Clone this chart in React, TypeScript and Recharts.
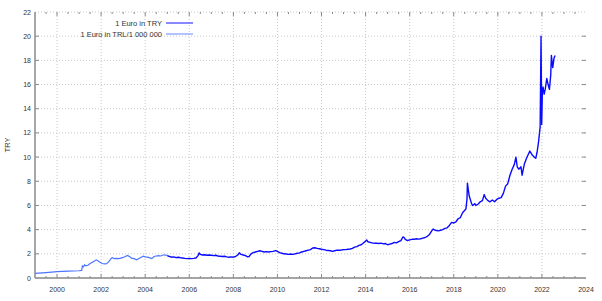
import { LineChart, Line, XAxis, YAxis, CartesianGrid, ReferenceLine } from 'recharts';

// Euro in old lira (TRL) divided by 1 000 000, 1999 - 2005
const trlDates = [
  1999.0, 1999.5, 2000.0, 2000.5, 2001.0, 2001.12, 2001.15, 2001.2, 2001.25, 2001.3, 2001.4, 2001.5,
  2001.6, 2001.7, 2001.78, 2001.85, 2001.95, 2002.05, 2002.15, 2002.25, 2002.35, 2002.45, 2002.5,
  2002.6, 2002.7, 2002.8, 2002.9, 2003.0, 2003.1, 2003.2, 2003.3, 2003.4, 2003.5, 2003.6, 2003.7,
  2003.8, 2003.92, 2004.0, 2004.15, 2004.3, 2004.4, 2004.5, 2004.6, 2004.7, 2004.85, 2004.95, 2005.0,
];
const trlRates = [
  0.38, 0.45, 0.53, 0.57, 0.6, 0.63, 1.0, 0.92, 1.1, 1.0, 1.05, 1.2,
  1.3, 1.4, 1.5, 1.42, 1.3, 1.2, 1.17, 1.18, 1.35, 1.6, 1.68,
  1.6, 1.62, 1.6, 1.65, 1.7, 1.78, 1.86, 1.75, 1.62, 1.6, 1.5, 1.6,
  1.7, 1.8, 1.75, 1.7, 1.6, 1.78, 1.82, 1.85, 1.82, 1.92, 1.88, 1.9,
];

// Euro in new lira (TRY), 2005 - 2022
const tryDates = [
  2005.0, 2005.1, 2005.2, 2005.3, 2005.4, 2005.5, 2005.6, 2005.7, 2005.8, 2005.9,
  2006.0, 2006.1, 2006.2, 2006.3, 2006.4, 2006.45, 2006.5, 2006.6, 2006.7, 2006.8, 2006.9,
  2007.0, 2007.1, 2007.2, 2007.3, 2007.4, 2007.5, 2007.6, 2007.7, 2007.8, 2007.9,
  2008.0, 2008.1, 2008.2, 2008.27, 2008.35, 2008.45, 2008.55, 2008.65, 2008.72, 2008.8, 2008.9,
  2009.0, 2009.1, 2009.2, 2009.3, 2009.4, 2009.5, 2009.6, 2009.7, 2009.8, 2009.92,
  2010.0, 2010.1, 2010.2, 2010.3, 2010.4, 2010.5, 2010.6, 2010.7, 2010.8, 2010.9,
  2011.0, 2011.1, 2011.2, 2011.3, 2011.4, 2011.5, 2011.6, 2011.7, 2011.8, 2011.9,
  2012.0, 2012.1, 2012.2, 2012.3, 2012.4, 2012.5, 2012.6, 2012.7, 2012.8, 2012.9,
  2013.0, 2013.1, 2013.2, 2013.3, 2013.4, 2013.5, 2013.6, 2013.7, 2013.8, 2013.9,
  2014.0, 2014.05, 2014.1, 2014.2, 2014.3, 2014.4, 2014.5, 2014.6, 2014.7, 2014.8, 2014.9,
  2015.0, 2015.1, 2015.2, 2015.3, 2015.4, 2015.5, 2015.6, 2015.7, 2015.75, 2015.8, 2015.9,
  2016.0, 2016.1, 2016.2, 2016.3, 2016.4, 2016.5, 2016.6, 2016.7, 2016.8, 2016.9,
  2017.0, 2017.07, 2017.15, 2017.3, 2017.4, 2017.5, 2017.6, 2017.7, 2017.8, 2017.9,
  2018.0, 2018.1, 2018.2, 2018.3, 2018.4, 2018.45, 2018.5, 2018.55, 2018.6, 2018.62, 2018.66,
  2018.7, 2018.75, 2018.8, 2018.85, 2018.9, 2018.95,
  2019.0, 2019.1, 2019.2, 2019.3, 2019.38, 2019.45, 2019.55, 2019.65, 2019.75, 2019.85, 2019.95,
  2020.05, 2020.15, 2020.25, 2020.35, 2020.45, 2020.55, 2020.65, 2020.75, 2020.82, 2020.88, 2020.95,
  2021.05, 2021.1, 2021.2, 2021.3, 2021.4, 2021.45, 2021.55, 2021.65, 2021.72, 2021.78, 2021.85,
  2021.92, 2021.96, 2021.99, 2022.02, 2022.05, 2022.1, 2022.15, 2022.22, 2022.28, 2022.34,
  2022.4, 2022.43, 2022.49, 2022.55, 2022.6,
];
const tryRates = [
  1.85, 1.78, 1.72, 1.75, 1.68, 1.72, 1.68, 1.65, 1.62, 1.6,
  1.62, 1.6, 1.62, 1.65, 1.85, 2.08, 1.95, 1.9, 1.92, 1.88, 1.9,
  1.88, 1.85, 1.88, 1.82, 1.8, 1.78, 1.8, 1.75, 1.72, 1.75,
  1.72, 1.78, 1.9, 2.08, 1.95, 1.9, 1.85, 1.75, 1.78, 2.0, 2.1,
  2.15, 2.2, 2.25, 2.2, 2.15, 2.18, 2.15, 2.18, 2.2, 2.27,
  2.2, 2.1, 2.05, 2.0, 1.98, 1.95, 1.98, 1.95, 2.0, 2.05,
  2.08, 2.15, 2.2, 2.25, 2.3, 2.35, 2.48, 2.5, 2.45, 2.42,
  2.38, 2.35, 2.3, 2.28, 2.25, 2.2, 2.25, 2.3, 2.3, 2.32,
  2.35, 2.35, 2.38, 2.4, 2.45, 2.55, 2.6, 2.7, 2.75, 2.9,
  3.05, 3.15, 3.0, 2.95, 2.9, 2.88, 2.88, 2.85, 2.88, 2.82, 2.85,
  2.75, 2.8, 2.85, 2.95, 2.9, 3.0, 3.1, 3.4, 3.35, 3.2, 3.1,
  3.15, 3.2, 3.2, 3.25, 3.22, 3.25, 3.3, 3.35, 3.45, 3.6,
  3.9, 4.05, 3.95, 3.9, 3.95, 4.0, 4.1, 4.15, 4.35, 4.6,
  4.55, 4.65, 4.9, 5.0, 5.4, 5.5, 5.6, 5.7, 6.5, 7.85, 7.3,
  6.8, 6.5, 6.2, 6.0, 6.05, 6.15,
  6.0, 6.1, 6.3, 6.4, 6.9, 6.6, 6.4, 6.3, 6.45, 6.3, 6.5,
  6.6, 6.65, 7.0, 7.6, 7.8, 8.5, 9.0, 9.4, 10.0, 9.2, 9.0,
  9.2, 8.5, 9.4, 9.9, 10.3, 10.5, 10.2, 10.0, 9.9, 10.4, 11.3,
  12.5, 20.0, 12.7, 15.4, 15.8, 15.2, 15.6, 16.5, 16.0, 15.6,
  16.8, 18.4, 17.4, 18.2, 18.4,
];

const seriesNames = ['1 Euro in TRY', '1 Euro in TRL/1 000 000'];
const yearLabels = [2000, 2002, 2004, 2006, 2008, 2010, 2012, 2014, 2016, 2018, 2020, 2022, 2024];
const rateTicks = [0, 2, 4, 6, 8, 10, 12, 14, 16, 18, 20, 22];

const trlData = trlDates.map((t, i) => ({ t, v: trlRates[i] }));
const tryData = tryDates.map((t, i) => ({ t, v: tryRates[i] }));
// half-year minor ticks
const yearTicks: number[] = [];
for (let y = 1999; y <= 2024; y += 0.5) yearTicks.push(y);

const W = 602;
const H = 301;
const PL = 35;
const PR = 586;
const PT = 12;
const PB = 278;
const FRAME = '#8a8a8a';
const TEXT = '#333';
const FONT = '"Liberation Sans", Arial, sans-serif';
const TRY_COLOR = '#0a0aff';
const TRL_COLOR = '#4d74ff';

const XTick = (props: any) => {
  const { x, payload } = props;
  const major = payload.value % 2 === 0;
  const len = major ? 4 : 2;
  return (
    <g>
      {x > PL + 1 && x < PR - 1 && (
        <>
          <line x1={x} x2={x} y1={PB} y2={PB - len} stroke={FRAME} strokeWidth={1} />
          <line x1={x} x2={x} y1={PT} y2={PT + len} stroke={FRAME} strokeWidth={1} />
        </>
      )}
      {yearLabels.includes(payload.value) && (
        <text x={x} y={PB + 14} textAnchor="middle" fontSize={7} fill={TEXT} fontFamily={FONT}>
          {payload.value}
        </text>
      )}
    </g>
  );
};

const YTick = (props: any) => {
  const { y, payload } = props;
  return (
    <g>
      {payload.value > 0 && payload.value < 22 && (
        <>
          <line x1={PL} x2={PL + 4} y1={y} y2={y} stroke={FRAME} strokeWidth={1} />
          <line x1={PR} x2={PR - 4} y1={y} y2={y} stroke={FRAME} strokeWidth={1} />
        </>
      )}
      <text x={31} y={y + 2.5} textAnchor="end" fontSize={7} fill={TEXT} fontFamily={FONT}>
        {payload.value}
      </text>
    </g>
  );
};

export default function App() {
  return (
    <div style={{ position: 'absolute', left: 0, top: 0, width: W, height: H, background: '#fff' }}>
      <LineChart width={W} height={H} margin={{ top: PT, right: W - PR, bottom: 0, left: 0 }}>
        <CartesianGrid vertical={false} stroke="#c8c8c8" strokeDasharray="1 2" />
        {yearLabels.slice(0, -1).map((y) => (
          <ReferenceLine key={y} x={y} stroke="#c8c8c8" strokeDasharray="1 2" />
        ))}
        <XAxis
          dataKey="t"
          type="number"
          domain={[1999, 2024]}
          ticks={yearTicks}
          interval={0}
          allowDataOverflow
          height={H - PB}
          tickLine={false}
          axisLine={{ stroke: FRAME, strokeWidth: 1.5 }}
          tick={<XTick />}
        />
        <XAxis
          xAxisId="top"
          orientation="top"
          type="number"
          domain={[1999, 2024]}
          height={0}
          tick={false}
          tickLine={false}
          axisLine={{ stroke: FRAME, strokeWidth: 1.5 }}
        />
        <YAxis
          type="number"
          domain={[0, 22]}
          ticks={rateTicks}
          interval={0}
          width={PL}
          tickLine={false}
          axisLine={{ stroke: FRAME, strokeWidth: 1.5 }}
          tick={<YTick />}
          label={() => (
            <text
              x={10}
              y={(PT + PB) / 2}
              transform={`rotate(-90 10 ${(PT + PB) / 2})`}
              textAnchor="middle"
              fontSize={7.5}
              fill={TEXT}
              fontFamily={FONT}
            >
              TRY
            </text>
          )}
        />
        <YAxis
          yAxisId="right"
          orientation="right"
          type="number"
          domain={[0, 22]}
          width={0}
          tick={false}
          tickLine={false}
          axisLine={{ stroke: FRAME, strokeWidth: 1.5 }}
        />
        <Line
          data={trlData}
          dataKey="v"
          name={seriesNames[1]}
          stroke={TRL_COLOR}
          strokeWidth={1.2}
          dot={false}
          isAnimationActive={false}
        />
        <Line
          data={tryData}
          dataKey="v"
          name={seriesNames[0]}
          stroke={TRY_COLOR}
          strokeWidth={1.4}
          strokeLinejoin="round"
          dot={false}
          isAnimationActive={false}
        />
      </LineChart>
      <svg
        width={200}
        height={40}
        style={{ position: 'absolute', left: 0, top: 0, pointerEvents: 'none' }}
      >
        {[
          { name: seriesNames[0], color: '#3a3aff', y: 23 },
          { name: seriesNames[1], color: '#7f9aff', y: 34 },
        ].map((row) => (
          <g key={row.name}>
            <text x={162} y={row.y + 3} textAnchor="end" fontSize={7.5} fill={TEXT} fontFamily={FONT}>
              {row.name}
            </text>
            <line x1={166} x2={193} y1={row.y} y2={row.y} stroke={row.color} strokeWidth={1.2} />
          </g>
        ))}
      </svg>
    </div>
  );
}
